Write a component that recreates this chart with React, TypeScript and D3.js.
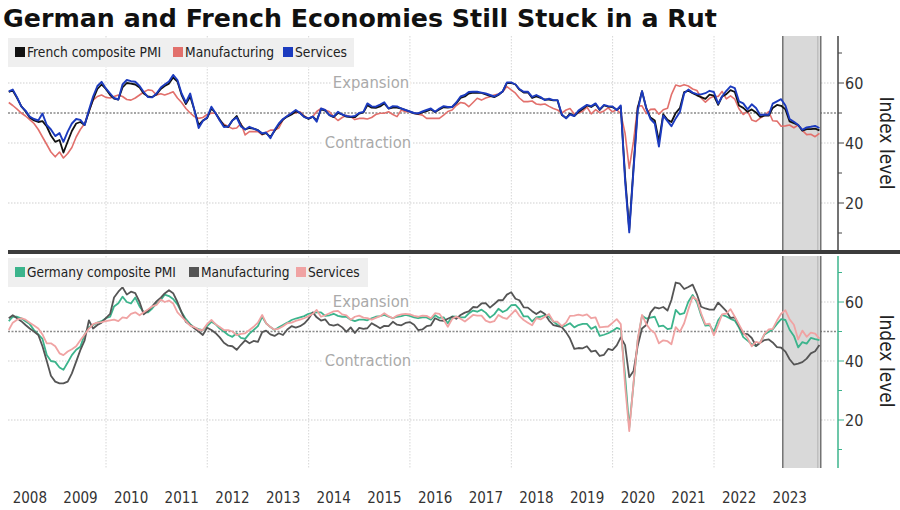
import React from "react";
import * as d3 from "d3";

// ---------- DATA (monthly, Jan 2008 – Jan 2024) ----------
const START_YEAR = 2008;
const YEAR_LABELS = ["2008","2009","2010","2011","2012","2013","2014","2015","2016","2017","2018","2019","2020","2021","2022","2023"];
const Y_TICKS = [20, 40, 60];
const Y_MINOR = [10, 30, 50, 70];
const SHADE = ["2023-05-12", "2024-02-10"];

const FR_COMPOSITE = [
  57.0, 57.5, 55.0, 52.3, 50.5, 48.5, 47.5, 47.0, 47.3, 45.5, 42.5, 40.4,
  41.0, 36.8, 40.5, 44.0, 46.5, 47.0, 46.0, 50.5, 54.5, 58.0, 59.5, 58.0,
  56.0, 54.8, 54.5, 58.5, 60.0, 59.8, 59.5, 58.5, 56.5, 55.5, 55.3, 56.2,
  58.0, 59.0, 59.8, 61.8, 60.5, 56.0, 53.0, 55.5, 51.0, 46.0, 47.5, 48.3,
  51.5, 50.0, 47.8, 45.8, 45.3, 47.5, 49.0, 46.0, 44.5, 45.0, 44.8, 44.3,
  43.0, 43.3, 42.0, 44.0, 46.2, 47.8, 48.8, 49.5, 50.5, 50.0, 48.8, 48.0,
  48.8, 47.5, 51.2, 50.8, 49.3, 48.6, 50.0, 49.5, 48.8, 48.6, 48.6, 49.8,
  50.2, 52.6, 51.8, 51.7, 52.2, 53.2, 51.5, 51.8, 51.8, 51.5, 51.0, 50.5,
  49.9, 49.7, 50.2, 50.6, 51.2, 50.3, 51.2, 51.9, 51.8, 52.0, 53.2, 55.0,
  55.5, 56.5, 56.8, 56.7, 56.7, 56.2, 55.7, 55.3, 56.0, 57.2, 60.0, 60.0,
  59.5, 57.8, 56.8, 56.9, 55.0, 55.5, 55.0, 54.5, 54.5, 54.2, 54.2, 49.3,
  48.3, 49.8, 49.0, 50.3, 51.3, 52.5, 52.0, 52.9, 51.0, 52.5, 52.1, 52.0,
  51.1, 52.0, 28.9, 11.1, 32.1, 51.7, 57.3, 51.6, 48.5, 47.5, 40.6, 49.6,
  47.7, 47.0, 50.0, 51.6, 57.0, 57.4, 56.6, 55.9, 55.3, 54.7, 56.1, 55.8,
  52.7, 55.5, 56.3, 57.6, 57.0, 52.5, 51.7, 50.4, 51.2, 50.2, 48.7, 49.1,
  49.1, 51.7, 52.7, 52.4, 51.2, 47.2, 46.6, 46.0, 44.1, 44.6, 44.6, 44.8,
  44.2,
];
const FR_MANUFACTURING = [
  53.5, 52.5, 51.3, 50.0, 49.0, 47.8, 46.5, 44.5, 42.0, 39.5, 37.0, 35.4,
  37.0, 35.0, 36.5, 38.5, 42.0, 44.5, 46.5, 50.5, 54.3, 55.5, 56.0, 55.2,
  55.0, 55.5, 56.0, 55.5, 54.5, 54.3, 55.0, 56.0, 57.0, 57.7, 57.5, 56.0,
  56.4, 56.0, 56.5, 57.1, 55.0, 53.5, 51.5, 50.0, 48.8, 48.2, 48.5, 49.5,
  49.9, 50.0, 47.5, 46.3, 45.5, 44.8, 45.0, 46.5, 42.7, 43.8, 43.8, 43.8,
  42.7, 43.5, 44.3, 44.3, 45.0, 47.7, 49.0, 49.9, 50.0, 50.4, 49.0, 48.2,
  48.8, 50.5, 51.5, 51.0, 50.4, 48.8, 47.5, 48.5, 49.2, 48.8, 47.8, 48.2,
  48.2, 48.0, 48.5, 49.5, 49.9, 49.9, 50.4, 49.5, 48.8, 51.0, 50.4, 50.4,
  49.9, 49.6, 49.3, 48.2, 48.2, 48.2, 48.2, 49.3, 50.5, 51.0, 52.5, 53.5,
  53.2, 52.1, 53.5, 54.9, 54.3, 55.0, 55.4, 56.0, 56.3, 57.1, 58.8, 57.7,
  56.6, 55.0, 53.8, 53.8, 54.0, 53.0, 52.8, 53.0, 52.2, 51.5, 51.0, 50.0,
  51.0, 51.5, 49.7, 50.0, 50.6, 52.0, 49.7, 51.1, 50.1, 50.7, 51.7, 50.4,
  51.1, 49.8, 43.2, 31.5, 40.6, 52.3, 52.4, 49.8, 51.2, 51.3, 49.6, 51.1,
  51.6, 56.1, 59.3, 58.9, 59.4, 59.0, 58.0, 57.5, 55.0, 53.6, 54.9, 55.6,
  55.5, 57.2, 54.7, 55.7, 54.6, 51.4, 49.5, 50.6, 47.7, 47.2, 48.3, 49.2,
  50.5, 47.4, 47.3, 45.6, 45.7, 46.0, 45.1, 46.0, 44.2, 42.8, 42.9, 42.1,
  43.2,
];
const FR_SERVICES = [
  57.2, 57.8, 55.2, 52.2, 50.8, 48.8, 48.0, 47.5, 49.8, 46.0, 44.5, 42.3,
  43.3, 40.4, 43.8, 46.5, 48.0, 47.7, 46.0, 51.0, 55.5, 59.0, 60.4, 58.2,
  56.5, 55.0, 54.5, 59.5, 61.0, 60.6, 60.4, 59.0, 57.0, 55.3, 55.2, 56.5,
  58.5, 59.5, 60.5, 62.7, 61.0, 56.5, 53.5, 56.5, 51.0, 45.0, 47.3, 48.5,
  52.1, 50.0, 47.5, 45.3, 45.5, 47.5, 48.5, 45.5, 44.5, 45.4, 44.8, 44.2,
  43.2, 43.5, 41.6, 44.3, 46.5, 48.0, 49.0, 50.0, 51.0, 50.0, 48.6, 48.2,
  48.8, 47.1, 51.5, 51.0, 49.3, 48.8, 50.4, 49.5, 49.0, 48.8, 49.0, 50.0,
  50.4, 53.2, 52.2, 52.1, 52.8, 53.6, 51.5, 52.3, 52.2, 51.5, 51.0, 50.5,
  50.0, 49.9, 50.5, 51.0, 51.5, 50.4, 51.5, 52.3, 52.0, 52.0, 53.5, 55.5,
  56.0, 57.0, 57.1, 57.1, 56.8, 56.5, 56.0, 55.5, 56.2, 57.2, 60.2, 60.2,
  59.5, 58.0, 57.1, 57.1, 55.4, 56.0, 55.3, 54.3, 54.8, 54.3, 54.3, 49.5,
  48.2, 49.5, 49.0, 50.8, 51.8, 52.7, 52.3, 53.2, 51.2, 52.7, 52.3, 52.2,
  51.0, 52.5, 27.4, 10.2, 31.1, 50.7, 57.3, 51.5, 48.0, 46.5, 38.8, 49.1,
  47.3, 45.6, 48.2, 50.3, 56.6, 57.8, 56.8, 56.3, 56.2, 56.6, 57.4, 57.0,
  53.1, 55.5, 57.4, 58.9, 58.3, 53.9, 53.2, 51.2, 52.9, 51.7, 49.3, 49.5,
  49.4, 53.1, 53.9, 54.6, 52.5, 48.0, 47.1, 46.0, 44.4, 45.2, 45.4, 45.7,
  45.0,
];
const DE_COMPOSITE = [
  53.5, 55.0, 55.0, 54.5, 53.5, 52.5, 50.5, 49.0, 47.5, 42.0, 40.0, 39.7,
  37.8, 37.0, 39.5, 42.0, 43.8, 44.8, 49.0, 51.5, 52.2, 53.0, 53.5, 54.5,
  55.0, 58.5, 59.6, 61.8, 60.0, 59.5, 61.5, 58.5, 56.5, 56.5, 57.8, 59.5,
  60.7, 62.5, 62.0, 61.0, 59.2, 56.5, 54.2, 52.5, 51.3, 50.8, 50.5, 51.8,
  53.3, 52.5, 51.0, 50.0, 48.8, 48.2, 49.4, 47.8, 47.5, 49.3, 50.5, 51.8,
  55.0, 52.8, 51.5, 50.5, 51.4, 52.2, 53.0, 53.9, 54.4, 54.8, 55.2, 56.0,
  56.3, 56.5, 56.5, 55.3, 55.5, 56.0, 55.3, 55.0, 55.0, 54.0, 53.5, 54.0,
  54.0, 53.8, 54.5, 55.0, 55.2, 55.6, 55.0, 54.5, 55.0, 55.2, 55.6, 55.3,
  54.8, 54.5, 54.8, 54.8, 54.0, 55.5, 54.6, 54.8, 52.8, 55.1, 55.0, 54.8,
  54.8, 56.1, 57.1, 56.7, 57.4, 56.4, 54.7, 55.8, 57.7, 56.6, 57.3, 58.9,
  59.0, 57.6, 55.1, 55.1, 53.4, 54.8, 55.0, 55.6, 55.0, 53.4, 52.3, 51.6,
  52.1, 52.8, 51.4, 52.2, 52.6, 52.6, 50.9, 51.7, 48.5, 48.9, 49.4, 50.2,
  51.2, 50.7, 35.0, 17.4, 32.3, 47.0, 55.3, 54.4, 54.7, 55.0, 51.7, 52.0,
  50.8, 51.1, 57.3, 55.8, 56.2, 60.1, 62.4, 60.0, 55.5, 52.0, 52.2, 49.9,
  53.8, 55.6, 55.1, 54.3, 53.7, 51.3, 48.1, 46.9, 45.7, 45.1, 46.3, 49.0,
  49.9, 50.7, 52.6, 54.2, 53.9, 50.6, 48.5, 44.6, 46.4, 45.9, 47.8, 47.4,
  47.1,
];
const DE_MANUFACTURING = [
  54.5, 55.5, 54.5, 53.5, 52.2, 51.0, 50.0, 48.8, 45.0, 40.0, 35.0, 33.0,
  32.4, 32.4, 33.0, 35.8, 39.8, 43.7, 47.0, 53.8, 51.0, 52.2, 53.0, 54.5,
  56.0, 61.5, 63.5, 65.0, 62.5, 63.5, 63.0, 60.0, 55.8, 57.0, 58.5, 60.2,
  61.5, 62.9, 64.0, 63.0, 60.0, 56.5, 53.3, 52.2, 51.1, 50.0, 48.8, 51.3,
  50.5, 49.5, 48.0, 46.2, 45.2, 45.0, 43.8, 45.5, 47.0, 46.0, 46.8, 46.5,
  49.8, 50.3, 49.0, 48.5, 49.4, 48.8, 50.7, 51.8, 51.3, 51.8, 52.7, 54.3,
  56.5, 54.8, 53.7, 54.1, 52.3, 52.0, 52.4, 51.4, 49.9, 51.4, 49.5, 51.2,
  50.9, 51.1, 52.8, 52.0, 51.1, 51.9, 51.8, 53.3, 52.3, 52.1, 52.9, 53.2,
  52.3, 50.5, 50.7, 51.8, 52.1, 54.5, 53.8, 53.6, 54.3, 55.0, 54.3, 55.6,
  56.4, 56.8, 58.3, 58.2, 59.5, 59.6, 58.1, 59.3, 60.6, 60.6, 62.5, 63.3,
  61.1, 60.6, 58.2, 58.1, 56.9, 55.9, 56.9, 55.9, 53.7, 52.2, 51.8, 51.5,
  49.7, 47.6, 44.1, 44.4, 44.3, 45.0, 43.2, 43.5, 41.7, 42.1, 44.1, 43.7,
  45.3, 48.0, 45.4, 34.5, 36.6, 45.2, 51.0, 52.2, 56.4, 58.2, 57.8, 58.3,
  57.1, 60.7, 66.6, 66.2, 64.4, 65.1, 65.9, 62.6, 58.4, 57.8, 57.4, 57.4,
  59.8, 58.4, 56.9, 54.6, 54.8, 52.0, 49.3, 49.1, 47.8, 45.1, 46.2, 47.1,
  47.3, 46.3, 44.7, 44.5, 43.2, 40.6, 38.8, 39.1, 39.6, 40.8, 42.6, 43.3,
  45.4,
];
const DE_SERVICES = [
  50.5, 53.0, 54.0, 54.5, 54.0, 53.0, 52.0, 51.0, 49.0, 46.0, 46.0, 45.0,
  42.6, 42.0, 43.2, 44.0, 45.0, 47.0, 49.0, 51.0, 52.5, 53.0, 53.2, 53.5,
  53.8, 54.0, 53.5, 54.8, 54.5, 56.0, 56.5, 55.5, 56.5, 57.5, 58.5, 59.0,
  60.8, 60.0, 60.5, 59.5, 56.5, 55.0, 53.5, 52.0, 51.5, 50.6, 50.5, 52.5,
  53.9, 52.5, 51.5, 50.5, 50.5, 50.0, 48.8, 49.2, 49.4, 50.5, 51.6, 53.0,
  55.6, 52.8, 51.5, 50.6, 51.0, 51.8, 52.8, 53.0, 53.6, 54.0, 54.5, 55.2,
  56.0, 57.3, 55.0, 55.5, 56.2, 56.8, 57.0, 55.8, 55.5, 54.0, 55.0, 55.4,
  54.7, 54.5, 54.0, 54.6, 55.2, 56.2, 55.2, 54.5, 55.4, 55.8, 56.0, 55.8,
  55.3, 55.0, 55.4, 55.3, 54.5, 56.2, 56.0, 54.0, 51.6, 54.2, 55.1, 54.3,
  53.4, 54.4, 55.6, 55.4, 55.4, 53.7, 53.1, 53.5, 55.6, 54.7, 54.3, 55.8,
  57.3, 55.3, 53.9, 53.0, 52.1, 54.5, 54.1, 55.0, 55.9, 53.4, 53.3, 51.8,
  53.0, 55.3, 55.4, 55.7, 55.4, 55.8, 54.5, 54.8, 51.4, 51.6, 51.7, 52.9,
  54.2, 52.5, 31.7, 16.2, 32.6, 47.3, 55.6, 52.5, 50.6, 49.5, 46.0, 47.0,
  46.7, 45.7, 51.5, 49.9, 52.8, 57.5, 61.8, 60.8, 56.2, 52.4, 52.7, 48.7,
  52.2, 55.8, 56.1, 57.6, 55.0, 52.4, 49.7, 47.7, 45.0, 46.5, 46.1, 49.2,
  50.7, 50.9, 53.7, 56.0, 57.2, 54.1, 52.3, 47.3, 50.3, 48.2, 49.6, 49.3,
  47.6,
];

// month-end dates for each observation
const dateOf = (i: number) => new Date(START_YEAR, i + 1, 0);

const FONT = "'DejaVu Sans Condensed', 'DejaVu Sans', sans-serif";

type Series = { name: string; values: number[]; color: string; width: number };

const TOP_SERIES: Series[] = [
  { name: "French composite PMI", values: FR_COMPOSITE, color: "#111111", width: 1.8 },
  { name: "Manufacturing", values: FR_MANUFACTURING, color: "#e2706c", width: 1.6 },
  { name: "Services", values: FR_SERVICES, color: "#1c3bbf", width: 1.9 },
];
const BOTTOM_SERIES: Series[] = [
  { name: "Germany composite PMI", values: DE_COMPOSITE, color: "#3cb48c", width: 1.8 },
  { name: "Manufacturing", values: DE_MANUFACTURING, color: "#555555", width: 1.8 },
  { name: "Services", values: DE_SERVICES, color: "#f0a3a3", width: 1.8 },
];
const TOP_DRAW_ORDER = [1, 0, 2];
const BOTTOM_DRAW_ORDER = [0, 1, 2];

export default function App() {
  const W = 900, H = 510;
  const plotLeft = 8, plotRight = 836;
  const x = d3.scaleTime()
    .domain([new Date(2010, 0, 1), new Date(2022, 0, 1)])
    .range([106, 714]);
  const yTop = d3.scaleLinear().domain([40, 60]).range([143, 83]);
  const yBot = d3.scaleLinear().domain([40, 60]).range([361, 302]);
  const topPanel = { y0: 36, y1: 250 };
  const botPanel = { y0: 256, y1: 468 };

  const makeLine = (y: d3.ScaleLinear<number, number>) =>
    d3.line<number>().x((_, i) => x(dateOf(i))).y((v) => y(v)).curve(d3.curveLinear);

  const gridYears = d3.range(2010, 2023, 2);

  const shadeX0 = x(new Date(SHADE[0]));
  const shadeX1 = x(new Date(SHADE[1]));

  const panel = (
    key: string,
    series: Series[],
    order: number[],
    y: d3.ScaleLinear<number, number>,
    p: { y0: number; y1: number },
    legendW: number,
    legendXs: number[],
    axisColor: string,
    legendFont: number,
  ) => {
    const line = makeLine(y);
    return (
      <g key={key}>
        <defs>
          <clipPath id={`clip-${key}`}>
            <rect x={plotLeft} y={p.y0} width={plotRight - plotLeft} height={p.y1 - p.y0} />
          </clipPath>
        </defs>
        {gridYears.map((yr) => (
          <line key={yr} x1={x(new Date(yr, 0, 1))} x2={x(new Date(yr, 0, 1))} y1={p.y0} y2={p.y1}
            stroke="#d6d6d6" strokeWidth={1} strokeDasharray="1.5,1.5" />
        ))}
        {Y_TICKS.map((t) => (
          <line key={t} x1={plotLeft} x2={plotRight} y1={y(t)} y2={y(t)}
            stroke="#cfcfcf" strokeWidth={1} strokeDasharray="1.5,1.5" />
        ))}
        <line x1={plotLeft} x2={plotRight} y1={y(50)} y2={y(50)}
          stroke="#8a8a8a" strokeWidth={1.6} strokeDasharray="2,1.5" />
        <rect x={shadeX0} y={p.y0} width={shadeX1 - shadeX0} height={p.y1 - p.y0} fill="#d9d9d9" />
        <line x1={shadeX0} x2={shadeX0} y1={p.y0} y2={p.y1} stroke="#555" strokeWidth={1.2} />
        <line x1={shadeX1} x2={shadeX1} y1={p.y0} y2={p.y1} stroke="#555" strokeWidth={1.2} />
        <line x1={shadeX1 - 3} x2={shadeX1 - 3} y1={p.y0} y2={p.y1} stroke="#aaa" strokeWidth={0.8} />
        <text x={371} y={y(60) + 5} textAnchor="middle" fontFamily={FONT} fontSize={16.5} fill="#aaaaaa"
          stroke="#ffffff" strokeWidth={5} paintOrder="stroke">Expansion</text>
        <text x={368} y={y(40) + 5} textAnchor="middle" fontFamily={FONT} fontSize={16.5} fill="#aaaaaa"
          stroke="#ffffff" strokeWidth={5} paintOrder="stroke">Contraction</text>
        <g clipPath={`url(#clip-${key})`}>
          {order.map((k) => (
            <path key={k} d={line(series[k].values) || ""} fill="none" stroke={series[k].color}
              strokeWidth={series[k].width} strokeLinejoin="round" />
          ))}
        </g>
        <rect x={plotLeft} y={p.y0 + 2} width={legendW} height={29} fill="#efefef" />
        {series.map((s, i) => (
          <g key={s.name + i}>
            <rect x={legendXs[i]} y={p.y0 + 11} width={10} height={10} fill={s.color} />
            <text x={legendXs[i] + 12} y={p.y0 + 21} fontFamily={FONT} fontSize={legendFont} fill="#222">{s.name}</text>
          </g>
        ))}
        <line x1={838} x2={838} y1={p.y0} y2={p.y1} stroke={axisColor} strokeWidth={1.5} />
        {Y_MINOR.map((t) => (
          <line key={"m" + t} x1={838} x2={842} y1={y(t)} y2={y(t)} stroke={axisColor} strokeWidth={1} />
        ))}
        {Y_TICKS.map((t) => (
          <g key={"t" + t}>
            <line x1={838} x2={844} y1={y(t)} y2={y(t)} stroke={axisColor} strokeWidth={1} />
            <text x={845} y={y(t) + 6} fontFamily={FONT} fontSize={16} fill="#333">{t}</text>
          </g>
        ))}
        <text transform={`translate(880, ${(y(60) + y(20)) / 2}) rotate(90)`} textAnchor="middle"
          fontFamily={FONT} fontSize={19} fill="#222">Index level</text>
      </g>
    );
  };

  return (
    <svg width={W} height={H} style={{ position: "absolute", left: 0, top: 0, background: "#fff" }}>
      <rect x={0} y={0} width={W} height={H} fill="#fff" />
      <text x={3} y={27} fontFamily="'DejaVu Sans', Verdana, sans-serif" fontWeight="bold" fontSize={25.3} fill="#111">
        German and French Economies Still Stuck in a Rut
      </text>
      {panel("top", TOP_SERIES, TOP_DRAW_ORDER, yTop, topPanel, 346, [15, 173, 283], "#444", 13.7)}
      {panel("bot", BOTTOM_SERIES, BOTTOM_DRAW_ORDER, yBot, botPanel, 360, [15, 189, 296], "#3cb48c", 13.6)}
      <rect x={plotLeft} y={250} width={892} height={4} fill="#3c3c3c" />
      {YEAR_LABELS.map((lab) => (
        <text key={lab} x={x(new Date(+lab, 6, 1))} y={503} textAnchor="middle" fontFamily={FONT}
          fontSize={15} fill="#333">{lab}</text>
      ))}
    </svg>
  );
}
